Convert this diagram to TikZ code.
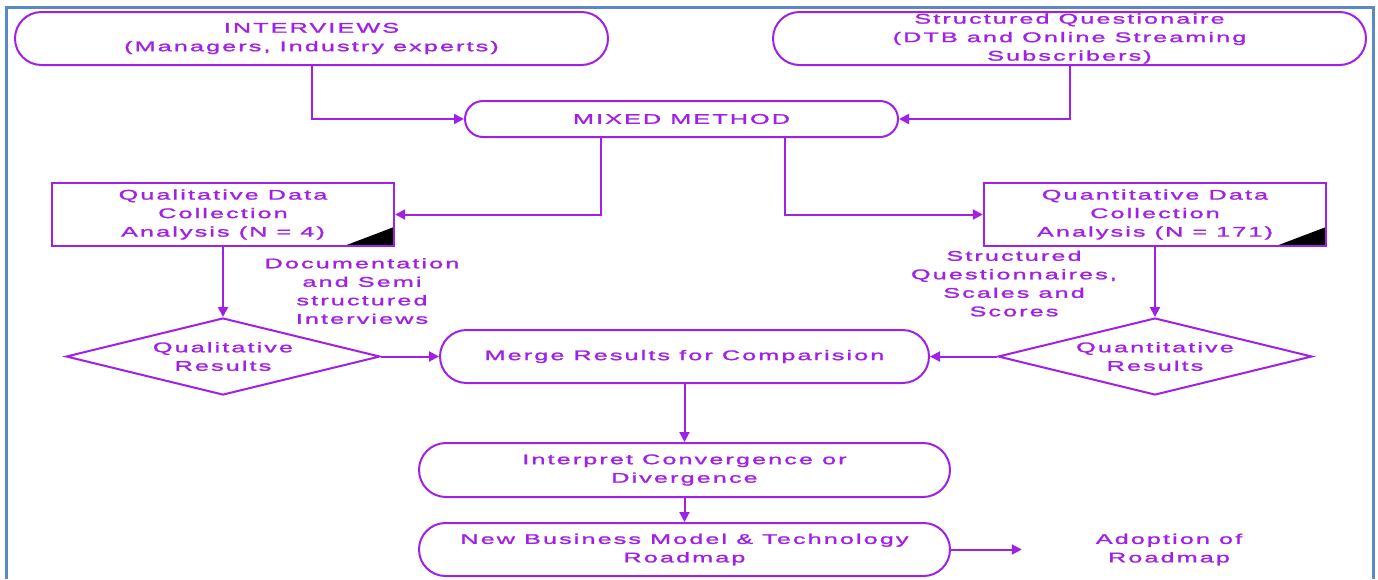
\documentclass[tikz,border=0pt]{standalone}
\usepackage{fontspec}
\usepackage{tikz}
\usetikzlibrary{arrows.meta, calc, positioning, shapes.misc, shapes.geometric}

\newfontfamily\flowfont[LetterSpace=15,FakeStretch=1.8,FakeBold=1.6]{Liberation Sans}
\definecolor{flowpurple}{RGB}{160,32,230}
\definecolor{frameblue}{RGB}{90,138,198}

\tikzset{
    every node/.style={font=\flowfont\fontsize{14}{18.5}\selectfont, text=flowpurple, align=center},
    pill/.style={draw=flowpurple, line width=2pt, rounded rectangle, inner sep=1pt},
    databox/.style={draw=flowpurple, line width=2.4pt, rectangle, inner sep=1pt,
        minimum width=342pt, minimum height=63pt,
        path picture={\fill[black] (path picture bounding box.south east) -- ++(-50pt,0pt) -- ++(50pt,19pt) -- cycle;}},
    result/.style={draw=flowpurple, line width=2pt, diamond, aspect=4, inner sep=0pt,
        minimum width=314pt, minimum height=77pt},
    link/.style={draw=flowpurple, line width=2pt, -{Triangle[length=10pt,width=10pt]}}
}

\begin{document}
\begin{tikzpicture}[x=1pt, y=-1pt]
    \useasboundingbox (0,0) rectangle (1378,579);
    \draw[frameblue, line width=3pt] (6,579) -- (6,7) -- (1373,7) -- (1373,579);

    % sources
    \node[pill, minimum width=595pt, minimum height=53pt] (intv) at (311.5,38.5) {INTERVIEWS\\(Managers, Industry experts)};
    \node[pill, minimum width=595pt, minimum height=53pt] (quest) at (1069.5,38.5) {Structured Questionaire\\(DTB and Online Streaming\\Subscribers)};
    \node[pill, minimum width=435pt, minimum height=36pt] (mixed) at (681.5,119) {MIXED METHOD};

    % data collection
    \node[databox] (qual) at (223,214.5) {Qualitative Data\\Collection\\Analysis (N = 4)};
    \node[databox] (quant) at (1155,214.5) {Quantitative Data\\Collection\\Analysis (N = 171)};
    \node (doclbl) at (362,291) {Documentation\\and Semi\\structured\\Interviews};
    \node (scalelbl) at (1014,283.5) {Structured\\Questionnaires,\\Scales and\\Scores};

    % results
    \node[result] (qualres) at (223,356.5) {Qualitative\\Results};
    \node[result] (quantres) at (1155,356.5) {Quantitative\\Results};
    \node[pill, minimum width=491pt, minimum height=53pt] (merge) at (684.5,356.5) {Merge Results for Comparision};
    \node[pill, minimum width=533pt, minimum height=54pt] (interp) at (684.5,470) {Interpret Convergence or\\Divergence};
    \node[pill, minimum width=533pt, minimum height=53pt] (roadmap) at (684.5,549.5) {New Business Model \& Technology\\Roadmap};
    \node[minimum width=294pt] (adopt) at (1169,549.5) {Adoption of\\Roadmap};

    \draw[link] (intv.south) |- (mixed.west);
    \draw[link] (quest.south) |- (mixed.east);
    \draw[link] ([xshift=-81pt]mixed.south) |- (qual.east);
    \draw[link] ([xshift=103pt]mixed.south) |- (quant.west);
    \draw[link] (qual.south) -- (qualres.north);
    \draw[link] (quant.south) -- (quantres.north);
    \draw[link] (qualres.east) -- (merge.west);
    \draw[link] (quantres.west) -- (merge.east);
    \draw[link] (merge.south) -- (interp.north);
    \draw[link] (interp.south) -- (roadmap.north);
    \draw[link] (roadmap.east) -- (adopt.west);
\end{tikzpicture}
\end{document}
